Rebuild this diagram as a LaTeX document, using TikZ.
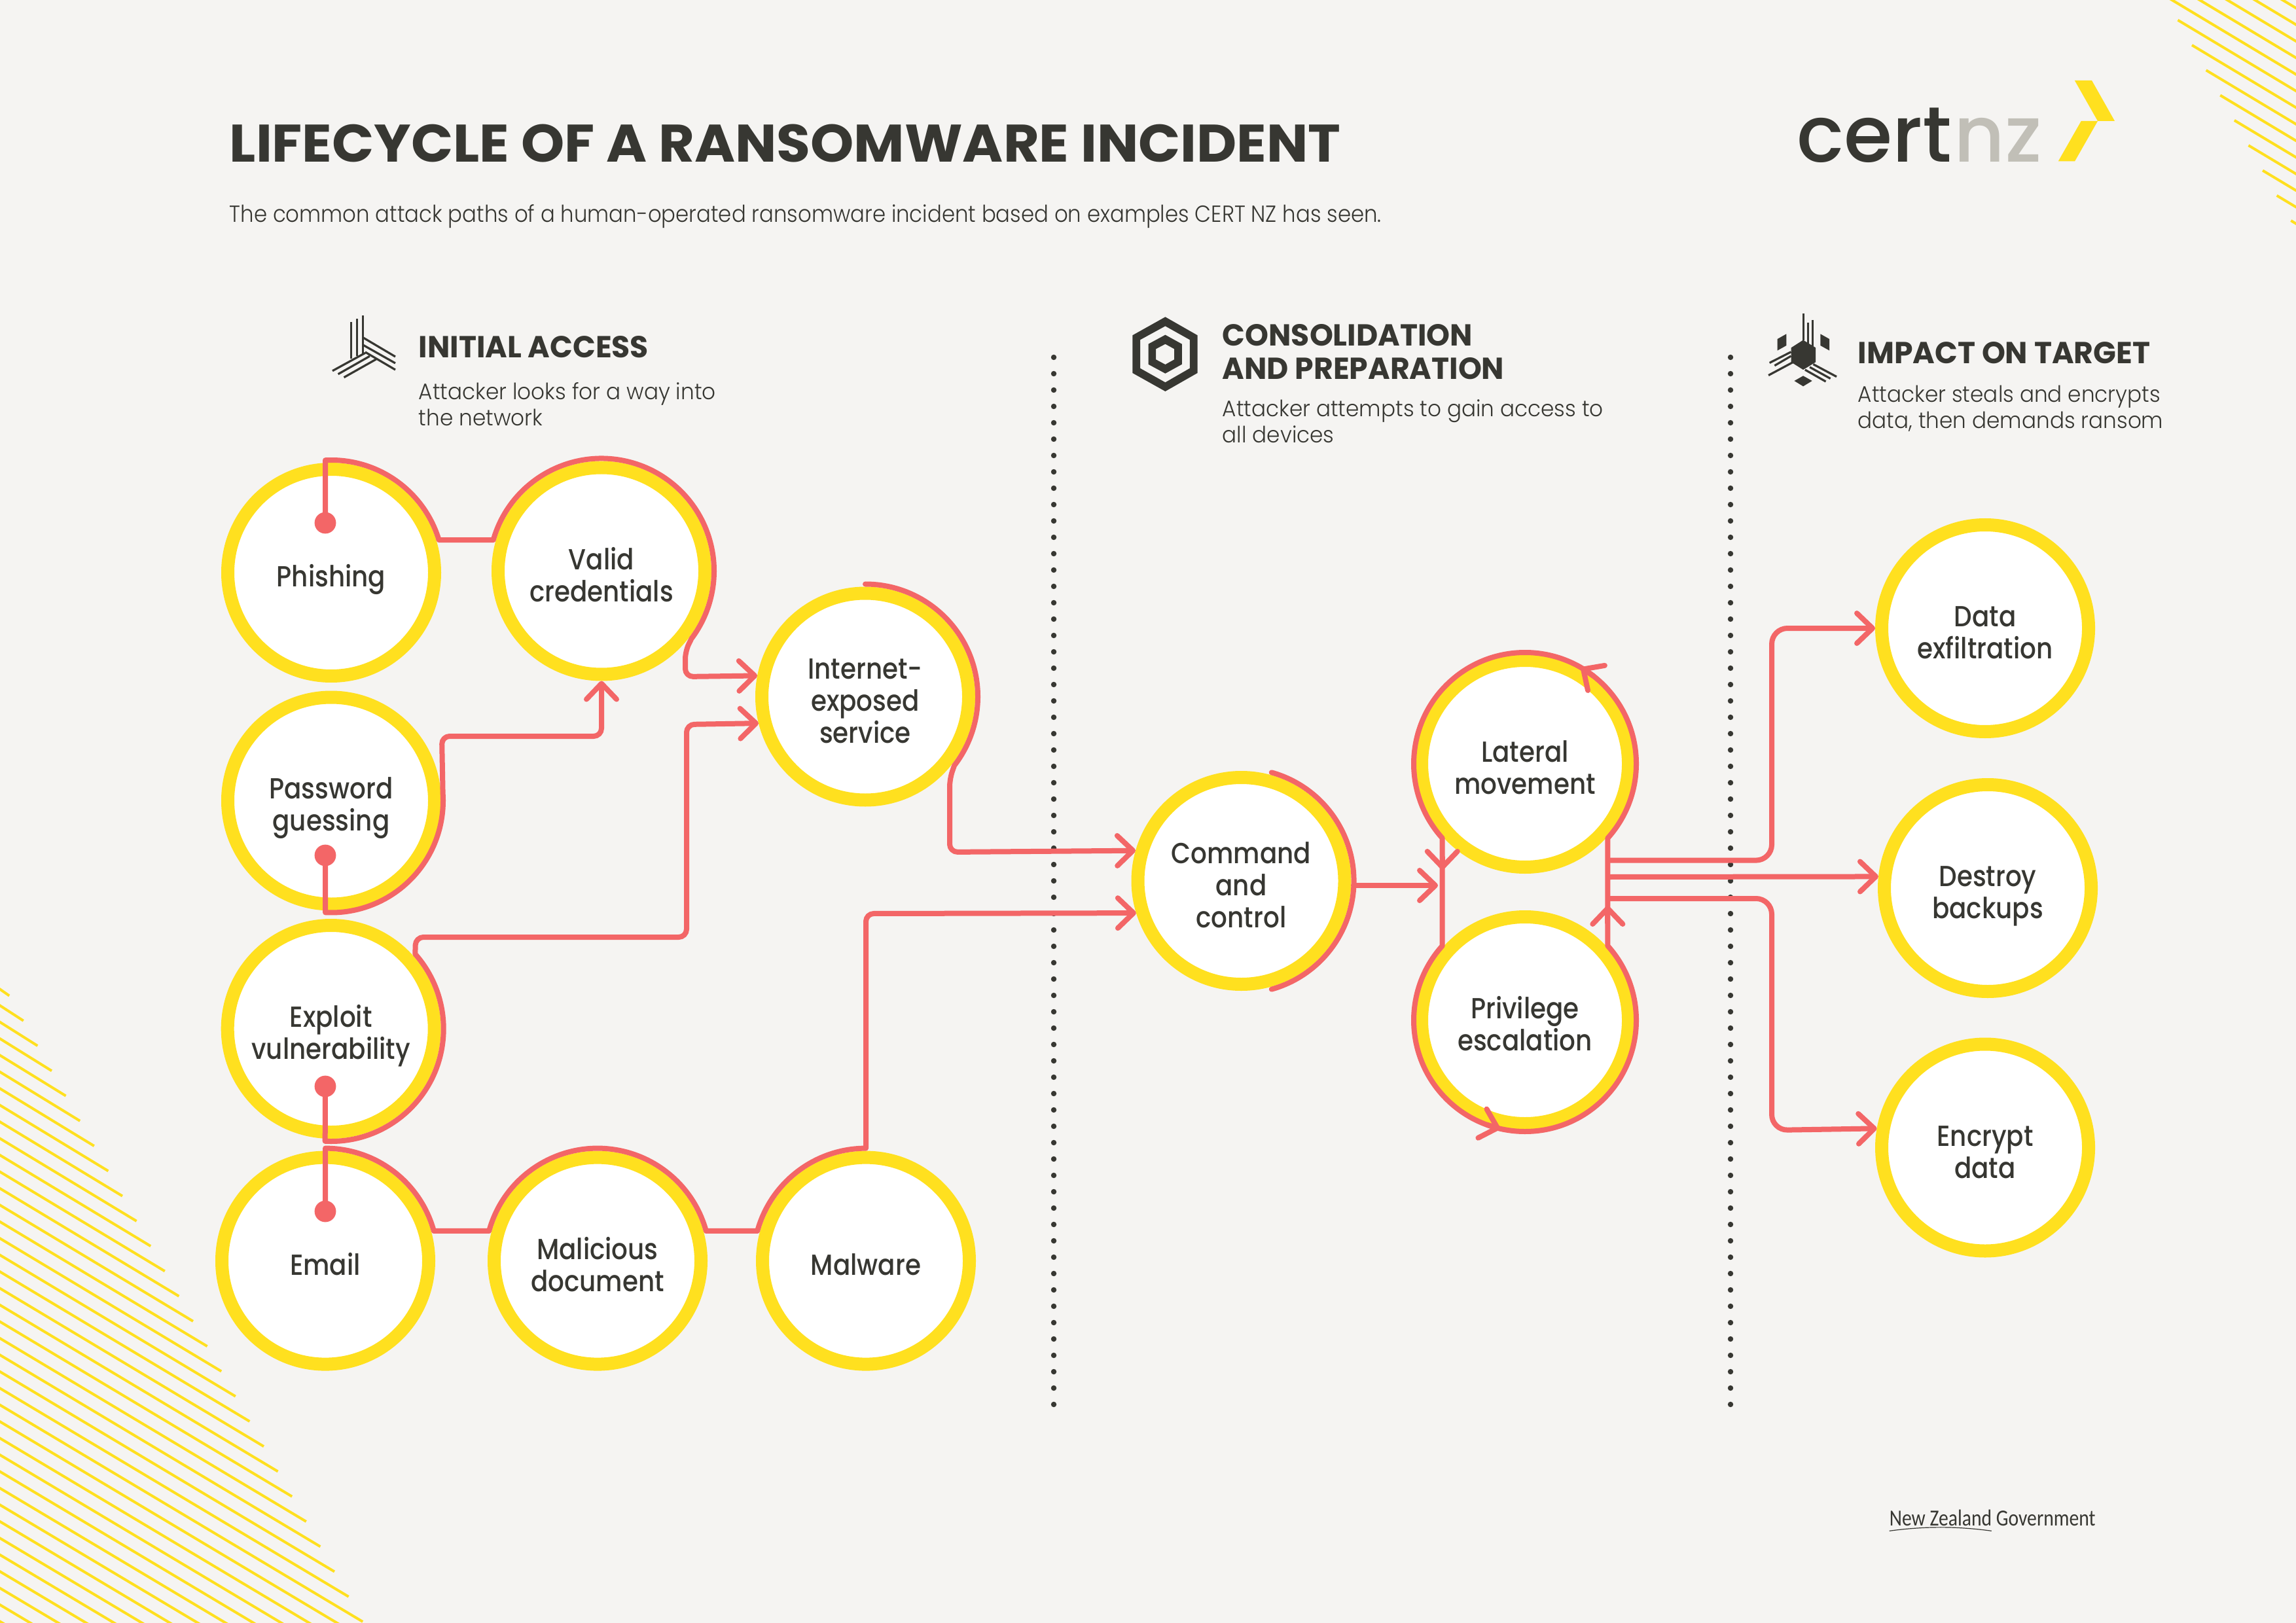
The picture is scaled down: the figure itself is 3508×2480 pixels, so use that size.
\documentclass[tikz,border=0pt]{standalone}
\usepackage{fontspec}
\usetikzlibrary{calc,arrows.meta}
\setmainfont{Poppins}
\newfontfamily\fLabel{Poppins Medium}[FakeStretch=0.875]
\newfontfamily\fLight{Poppins Light}[FakeStretch=0.95]
\newfontfamily\fLightB{Poppins Light}[FakeStretch=0.909]
\newfontfamily\fHead{Poppins Bold}[FakeStretch=0.985]
\newfontfamily\fTitle{Poppins Bold}[FakeStretch=1.043]
\newfontfamily\fLogo{Poppins Medium}
\newfontfamily\fGov{Carlito}[FakeStretch=0.843]
\newcommand\hs{\rule{0pt}{14pt}}
\definecolor{bgc}{HTML}{F5F4F2}
\definecolor{ringc}{HTML}{FFE01F}
\definecolor{redc}{HTML}{F36667}
\definecolor{ink}{HTML}{373732}
\definecolor{greyc}{HTML}{C1BFB7}
\tikzset{
  circ/.style={circle,draw=ringc,fill=white,line width=5pt,minimum size=79pt,inner sep=0pt,text=ink,align=center,
    font=\fLabel\fontsize{11.1pt}{12.25pt}\selectfont,
    execute at end node={\rule[-3pt]{0pt}{3pt}}},
  conn/.style={draw=redc,line width=2pt,line join=round,line cap=round},
  barb/.style={-{Straight Barb[length=6pt,width=11.5pt,round]}},
  reddot/.style={circle,fill=redc,inner sep=0pt,minimum size=8.2pt},
  dots/.style={draw=ink,line width=2.1pt,line cap=round,dash pattern=on 0pt off 6.25pt},
  stripe/.style={draw=ringc,line width=1pt},
  head/.style={anchor=base west,inner sep=0pt,text=ink,align=left,font=\fHead\fontsize{11.6pt}{12.6pt}\selectfont},
  sub/.style={anchor=base west,inner sep=0pt,text=ink,align=left,font=\fLight\fontsize{8.6pt}{10pt}\selectfont},
  icon/.style={draw=ink,line width=.8pt},
}
\begin{document}
\begin{tikzpicture}[x=.25pt,y=.25pt]
\useasboundingbox (0,0) rectangle (3508,-2480);
\fill[bgc] (0,0) rectangle (3508,-2480);
% stripes
\begin{scope}
\clip (0,0) rectangle (3508,-2480);
\foreach \k in {0,...,38}{
  \draw[stripe] (-10,{-1504.6-25.45*\k}) -- ({14.2+21.6*\k},{-1521.5-38.26*\k});
}
\foreach \k in {-7,...,7}{
  \draw[stripe] ({3349+21.6*\k},{-69-38.3*\k}) -- ++(300,-180);
}
\end{scope}
% dotted separators
\coordinate (d1a) at (1610,-546); \coordinate (d1b) at (1610,-2150);
\coordinate (d2a) at (2644,-546); \coordinate (d2b) at (2644,-2150);
\draw[dots] (d1a) -- (d1b);
\draw[dots] (d2a) -- (d2b);
% titles
\node[anchor=base west,inner sep=0pt,text=ink,font=\fTitle\fontsize{20.2pt}{22pt}\selectfont] (title) at (350,-247.7) {LIFECYCLE OF A RANSOMWARE INCIDENT};
\node[anchor=base west,inner sep=0pt,text=ink,font=\fLightB\fontsize{8.9pt}{10pt}\selectfont] (subtitle) at (350,-339.3) {The common attack paths of a human-operated ransomware incident based on examples CERT NZ has seen.};
% logo
\node[anchor=base west,inner sep=0pt,text=ink,font=\fLogo\fontsize{30pt}{32pt}\selectfont] (logoA) at (2745,-248) {cert};
\node[anchor=base west,inner sep=0pt,text=greyc,font=\fLogo\fontsize{30pt}{32pt}\selectfont] (logoB) at (2985,-248) {nz};
\fill[ringc] (3169.8,-123) -- (3196,-123) -- (3231,-185) -- (3205,-185) -- cycle;
\fill[ringc] (3179.7,-185) -- (3205,-185) -- (3170,-246.4) -- (3144.7,-246.4) -- cycle;
% gov
\node[anchor=base west,inner sep=0pt,text=ink,font=\fGov\fontsize{8.8pt}{10pt}\selectfont] (gov) at (2886,-2331) {New Zealand Government};
\draw[ink,line width=.3pt] (2886.7,-2339.3) .. controls (2940,-2332) and (2990,-2332) .. (3042.7,-2339.3);
% headings
\node[head] (h1) at (639,-547) {INITIAL ACCESS};
\node[sub] (s1) at (639,-650.7) {Attacker looks for a way into\\the network};
\node[head] (h2) at (1867,-579.3) {CONSOLIDATION\\AND PREPARATION};
\node[sub] (s2) at (1867,-677) {Attacker attempts to gain access to\\all devices};
\node[head] (h3) at (2838,-555.5) {IMPACT ON TARGET};
\node[sub] (s3) at (2838,-654.3) {Attacker steals and encrypts\\data, then demands ransom};
% icon: initial access
\draw[icon] (554.6,-482.3) -- (554.6,-540);
\draw[icon] (545.6,-487.3) -- (545.6,-544);
\draw[icon] (536.7,-492.3) -- (536.7,-548.3);
\draw[icon] (555,-516) -- (604,-545);
\draw[icon] (555,-527.3) -- (604,-555);
\draw[icon] (558,-538) -- (604,-565);
\draw[icon] (558,-539.3) -- (508,-566.7);
\draw[icon] (564.8,-544.3) -- (516.6,-571.7);
\draw[icon] (574.6,-549) -- (525.5,-576.7);
% icon: consolidation
\fill[ink,even odd rule] (1780.4,-484.3) -- (1829.5,-512.3) -- (1829.5,-570) -- (1780.4,-598) -- (1730.4,-570) -- (1730.4,-512.3) -- cycle
  (1780.4,-498.3) -- (1817.9,-519.3) -- (1817.9,-562.7) -- (1780.4,-584.3) -- (1742,-562.7) -- (1742,-519.3) -- cycle
  (1780.4,-511.7) -- (1805.8,-525.7) -- (1805.8,-556.7) -- (1780.4,-570.7) -- (1754.5,-556.7) -- (1754.5,-525.7) -- cycle
  (1780.4,-525.7) -- (1794.2,-533.3) -- (1794.2,-549.3) -- (1780.4,-557) -- (1766,-549.3) -- (1766,-533.3) -- cycle;
% icon: impact
\fill[ink] (2755,-519.6) -- (2774.2,-531.4) -- (2774.2,-553.3) -- (2755,-565) -- (2736.5,-553.3) -- (2736.5,-531.4) -- cycle;
\fill[ink] (2715.7,-518) -- (2729.3,-510.3) -- (2729.3,-528) -- (2715.7,-535.6) -- cycle;
\fill[ink] (2781.3,-510.3) -- (2795,-518) -- (2795,-535.6) -- (2781.3,-528) -- cycle;
\fill[ink] (2755,-574.3) -- (2768.7,-582) -- (2755,-590.3) -- (2741.4,-582) -- cycle;
\draw[icon] (2755.6,-478.8) -- (2755.6,-520);
\draw[icon] (2762.7,-493.5) -- (2762.7,-525);
\draw[icon] (2769.3,-489) -- (2769.3,-530);
\draw[icon] (2736.5,-537.7) -- (2703.6,-554.5);
\draw[icon] (2736.5,-544) -- (2711.3,-558.7);
\draw[icon] (2740.3,-553) -- (2702,-573.5);
\draw[icon] (2770.4,-556.6) -- (2806,-575.6);
\draw[icon] (2765,-561) -- (2796.6,-578.5);
\draw[icon] (2757.8,-565) -- (2789.5,-583);
% circles
\node[circ] (phish) at (506,-875) {\hs Phishing};
\node[circ] (valid) at (919,-872.5) {\hs Valid\\credentials};
\node[circ] (pass) at (506,-1223.5) {\hs Password\\guessing};
\node[circ] (inet) at (1322,-1064.5) {\hs Internet-\\exposed\\service};
\node[circ] (expl) at (505.7,-1572) {\hs Exploit\\vulnerability};
\node[circ] (email) at (497,-1926.6) {\hs Email};
\node[circ] (malic) at (913,-1926.6) {\hs Malicious\\document};
\node[circ] (malw) at (1323,-1926.6) {\hs Malware};
\node[circ] (cmd) at (1896.5,-1346) {\hs Command\\and\\control};
\node[circ] (lat) at (2330,-1167) {\hs Lateral\\movement};
\node[circ] (priv) at (2330,-1559) {\hs Privilege\\escalation};
\node[circ] (data) at (3033,-960) {\hs Data\\exfiltration};
\node[circ] (destr) at (3037,-1357) {\hs Destroy\\backups};
\node[circ] (encr) at (3033,-1753.5) {\hs Encrypt\\data};
% dots
\node[reddot] (dPh) at (497,-799) {};
\node[reddot] (dPa) at (497,-1307) {};
\node[reddot] (dEx) at (497,-1660) {};
\node[reddot] (dEm) at (497,-1851) {};
% connectors
\coordinate (a1) at ($(phish.center)+(93:172)$);
\coordinate (a2) at ($(valid.center)+(164:172)$);
\draw[conn,barb] (dPh.center) -- (a1) arc[start angle=93,end angle=16.9,radius=172] -- (a2)
  arc[start angle=164,end angle=-37,radius=172] [rounded corners=3pt] -- (1047,-995) -- (1047,-1034) -- (inet.169.5);
\coordinate (a3) at ($(pass.center)+(-93:171)$);
\draw[conn,barb] (dPa.center) -- (a3) arc[start angle=-93,end angle=4,radius=171] [rounded corners=3pt] -- (675,-1125) -- (919,-1125) -- (valid.south);
\coordinate (a4) at ($(expl.center)+(-93:172)$);
\draw[conn,barb] (dEx.center) -- (a4) arc[start angle=-93,end angle=41.6,radius=172] [rounded corners=3pt] -- (635,-1432) -- (1049,-1432) -- (1049,-1107) -- (inet.194.65);
\coordinate (a5) at ($(email.center)+(90:172)$);
\coordinate (a6) at ($(malic.center)+(164.6:172)$);
\coordinate (a7) at ($(malw.center)+(164.6:172)$);
\draw[conn,barb] (dEm.center) -- (a5) arc[start angle=90,end angle=15.4,radius=172] -- (a6)
  arc[start angle=164.6,end angle=15.4,radius=172] -- (a7)
  arc[start angle=164.6,end angle=90,radius=172] [rounded corners=3pt] -- (1323,-1396) -- (cmd.197.3);
\coordinate (a8) at ($(inet.center)+(90:172)$);
\draw[conn,barb] (a8) arc[start angle=90,end angle=-37.7,radius=172] [rounded corners=3pt] -- (1451,-1190) -- (1451,-1302) -- (cmd.164.8);
\coordinate (a9) at ($(cmd.center)+(74.4:172)$);
\draw[conn] (a9) arc[start angle=74.4,end angle=-74.4,radius=172];
\coordinate (a10) at (2068,-1353);
\coordinate (a11) at (2197,-1353);
\draw[conn,barb] (a10) -- (a11);
\coordinate (l1) at ($(lat.center)+(222:170)$);
\coordinate (l2) at ($(priv.center)+(138:170)$);
\coordinate (r1) at ($(lat.center)+(-42:170)$);
\coordinate (r2) at ($(priv.center)+(42:170)$);
\draw[conn] (l1) arc[start angle=222,end angle=-42,radius=170] -- (r2) arc[start angle=42,end angle=-222,radius=170] -- (l1);
% small arrowheads on the loop
\coordinate (k1) at ($(lat.center)+(52:170)$);
\coordinate (k2) at ($(lat.center)+(59.7:170)$);
\draw[conn,barb] (k1) -- (k2);
\coordinate (k3) at ($(priv.center)+(250:170)$);
\coordinate (k4) at ($(priv.center)+(257:170)$);
\draw[conn,barb] (k3) -- (k4);
\coordinate (k5) at (2203.7,-1310);
\coordinate (k6) at (2203.7,-1329);
\draw[conn,barb] (k5) -- (k6);
\coordinate (k7) at (2456.3,-1410);
\coordinate (k8) at (2456.3,-1384);
\draw[conn,barb] (k7) -- (k8);
% outputs
\coordinate (o1) at (2457,-1314.6);
\coordinate (o2) at (2457,-1340);
\coordinate (o3) at (2457,-1373);
\draw[conn,barb,rounded corners=6pt] (o1) -- (2707,-1314.6) -- (2707,-960) -- (data.west);
\draw[conn,barb] (o2) -- (destr.174.2);
\draw[conn,barb,rounded corners=6pt] (o3) -- (2707,-1373) -- (2707,-1727) -- (encr.170.9);
\end{tikzpicture}
\end{document}
